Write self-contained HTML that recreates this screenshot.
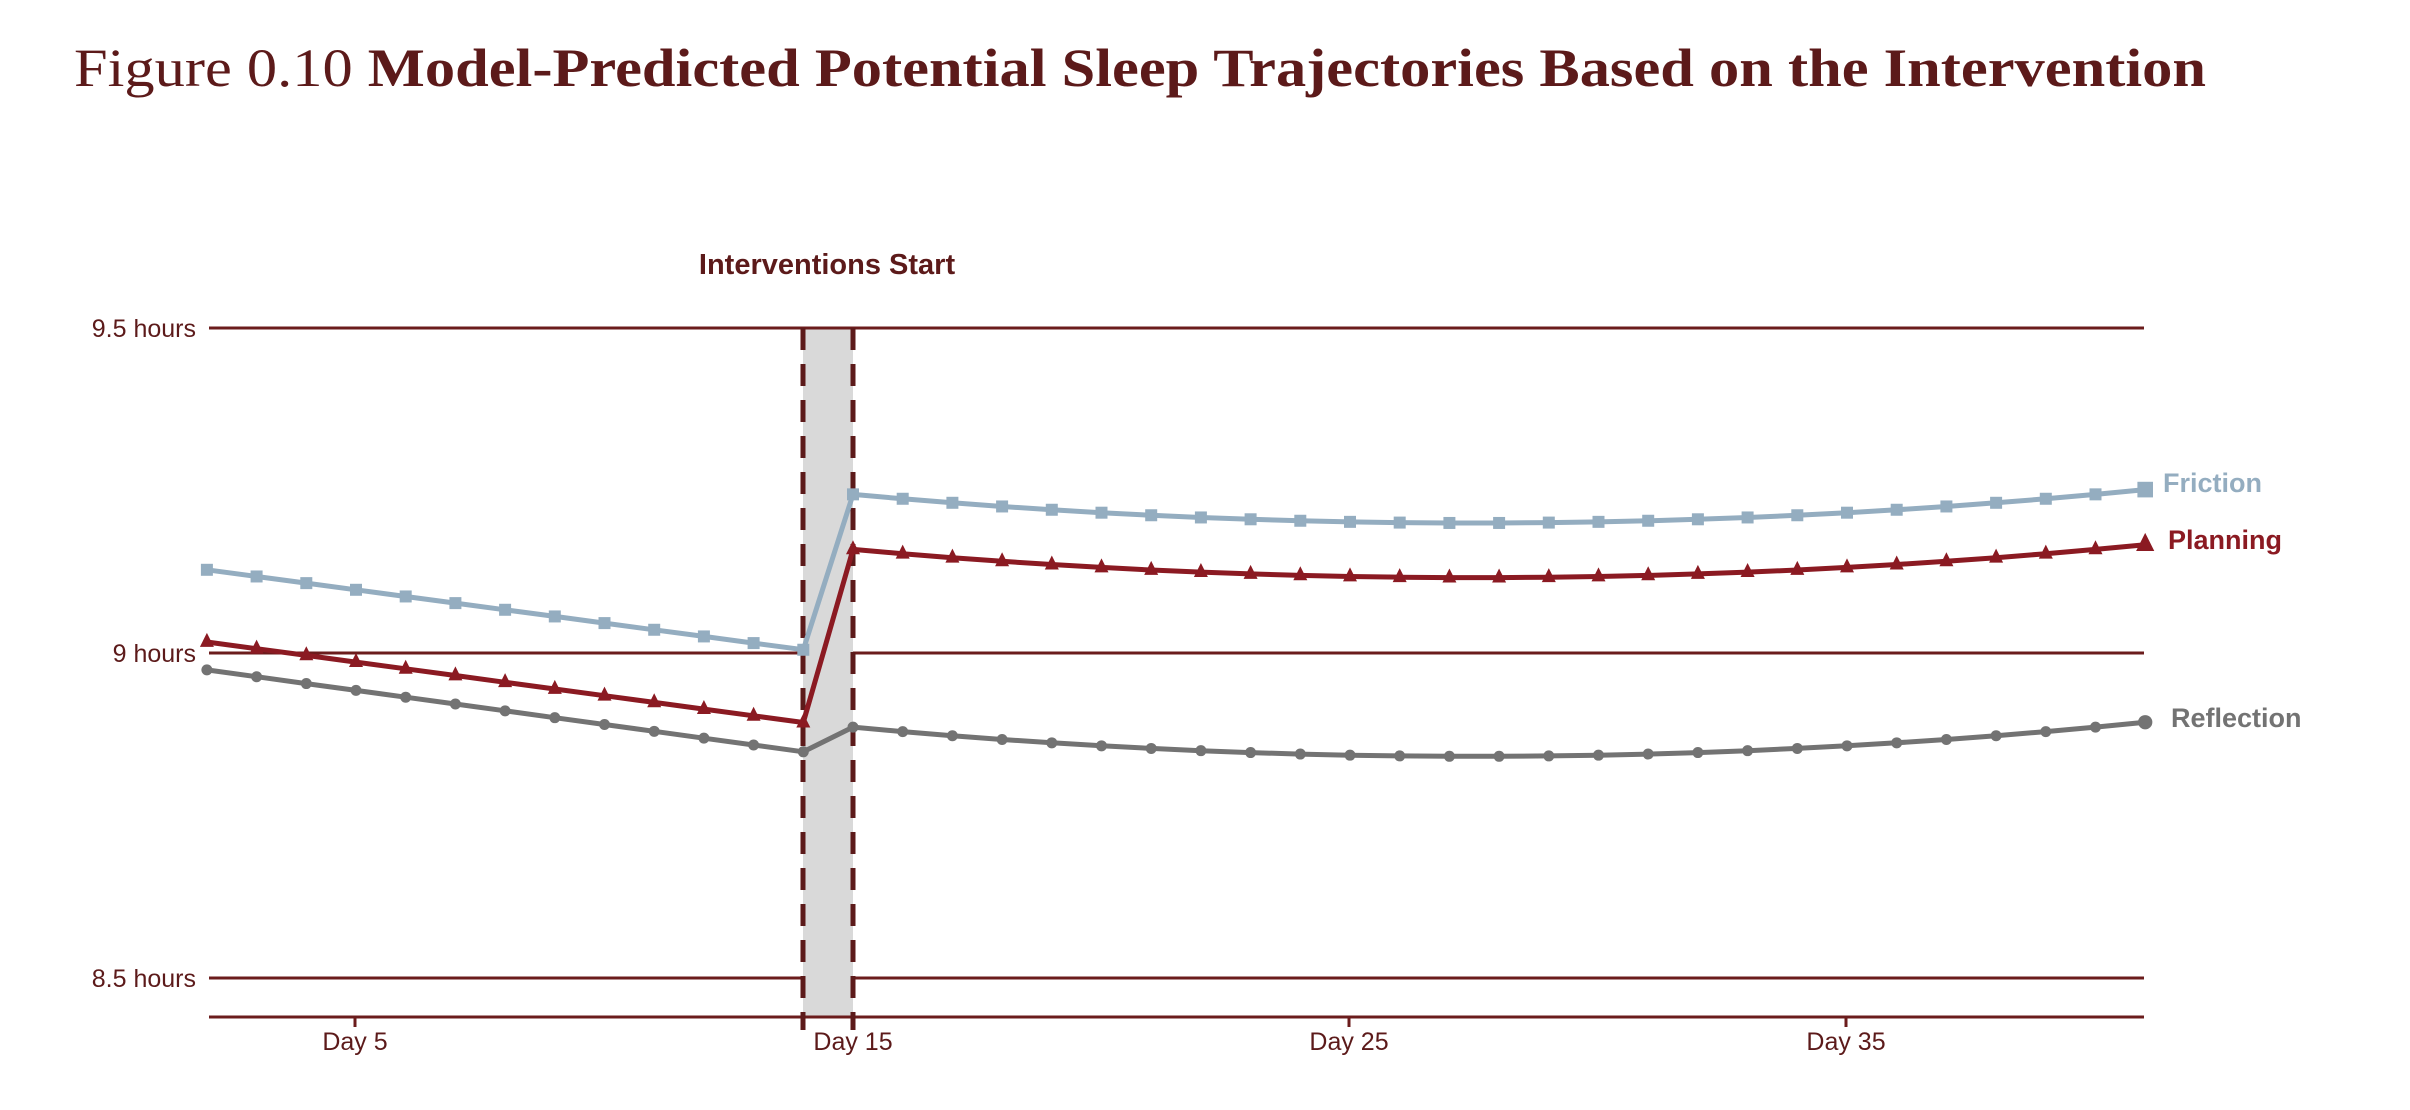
<!DOCTYPE html>
<html><head><meta charset="utf-8"><style>
html,body{margin:0;padding:0;background:#fff;}
svg{display:block;}
</style></head><body>
<svg id="s" width="2410" height="1110" viewBox="0 0 2410 1110" xmlns="http://www.w3.org/2000/svg">
<text x="74" y="86" font-family="Liberation Serif, serif" font-size="54" fill="#5c1a1a" textLength="2132" lengthAdjust="spacingAndGlyphs">Figure 0.10 <tspan font-weight="bold">Model-Predicted Potential Sleep Trajectories Based on the Intervention</tspan></text>
<rect x="803" y="328" width="50" height="689" fill="#d9d9d9"/>
<g stroke="#6b1c1c" stroke-width="3">
<line x1="209" y1="328" x2="2144" y2="328"/>
<line x1="209" y1="653" x2="803" y2="653"/><line x1="853" y1="653" x2="2144" y2="653"/>
<line x1="209" y1="978" x2="803" y2="978"/><line x1="853" y1="978" x2="2144" y2="978"/>
<line x1="209" y1="1017" x2="2144" y2="1017"/>
<line x1="355" y1="1017" x2="355" y2="1027"/><line x1="1349" y1="1017" x2="1349" y2="1027"/><line x1="1846" y1="1017" x2="1846" y2="1027"/>
</g>
<g stroke="#5c1a1a" stroke-width="5" stroke-dasharray="22,14">
<line x1="803" y1="328" x2="803" y2="1030"/><line x1="853" y1="328" x2="853" y2="1030"/>
</g>
<g font-family="Liberation Sans Narrow, Liberation Sans, sans-serif" font-size="25" fill="#5c1a1a">
<text x="196" y="337" text-anchor="end">9.5 hours</text>
<text x="196" y="662" text-anchor="end">9 hours</text>
<text x="196" y="987" text-anchor="end">8.5 hours</text>
<text x="355" y="1050" text-anchor="middle">Day 5</text>
<text x="853" y="1050" text-anchor="middle">Day 15</text>
<text x="1349" y="1050" text-anchor="middle">Day 25</text>
<text x="1846" y="1050" text-anchor="middle">Day 35</text>
</g>
<text x="827" y="274" text-anchor="middle" font-family="Liberation Sans Narrow, Liberation Sans, sans-serif" font-weight="bold" font-size="29" fill="#5c1a1a">Interventions Start</text>
<g id="series"></g>
<g font-family="Liberation Sans Narrow, Liberation Sans, sans-serif" font-weight="bold" font-size="27">
<text x="2163" y="492" fill="#94adc0">Friction</text>
<text x="2168" y="549" fill="#8b1a22">Planning</text>
<text x="2171" y="727" fill="#737373">Reflection</text>
</g>
</svg>
<script>
var X=function(d){return 853+(d-15)*49.7;};
var Y=function(h){return 653-(h-9)*650;};
var S=[
 {c:"#94adc0",m:"sq",a0:9.128,a1:9.005,v:9.200,b:0.000282},
 {c:"#8b1a22",m:"tri",a0:9.017,a1:8.893,v:9.116,b:0.000278},
 {c:"#737373",m:"ci",a0:8.974,a1:8.848,v:8.841,b:0.000288}
];
var g=document.getElementById("series"),h="";
S.forEach(function(s){
 var pts=[];
 for(var d=2;d<=14;d++)pts.push([X(d),Y(s.a0+(s.a1-s.a0)*(d-2)/12)]);
 for(var d=15;d<=41;d++)pts.push([X(d),Y(s.v+s.b*(d-27.5)*(d-27.5))]);
 h+='<polyline fill="none" stroke="'+s.c+'" stroke-width="5" stroke-linejoin="round" points="'+pts.map(function(p){return p[0].toFixed(1)+","+p[1].toFixed(1)}).join(" ")+'"/>';
 pts.forEach(function(p,i){
  var big=(i==pts.length-1)?1.3:1;
  if(s.m=="sq"){var r=6*big;h+='<rect x="'+(p[0]-r)+'" y="'+(p[1]-r)+'" width="'+2*r+'" height="'+2*r+'" fill="'+s.c+'"/>';}
  else if(s.m=="tri"){var r=7*big;h+='<polygon fill="'+s.c+'" points="'+p[0]+','+(p[1]-r*1.3)+' '+(p[0]-r)+','+(p[1]+r*0.7)+' '+(p[0]+r)+','+(p[1]+r*0.7)+'"/>';}
  else {h+='<circle cx="'+p[0]+'" cy="'+p[1]+'" r="'+(5.5*big)+'" fill="'+s.c+'"/>';}
 });
});
g.innerHTML=h;
</script>
</body></html>
